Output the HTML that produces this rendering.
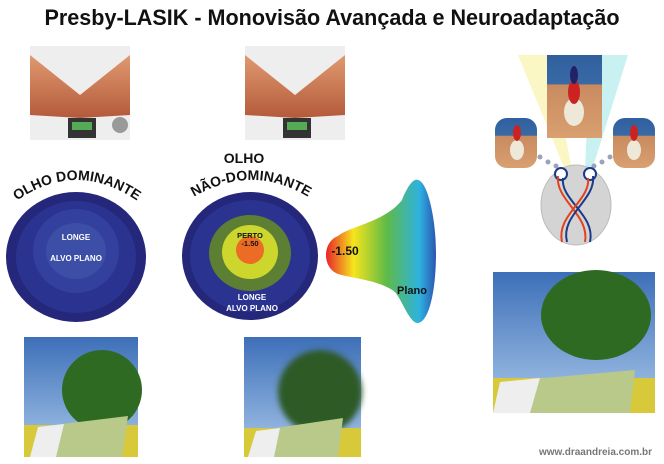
<!DOCTYPE html>
<html><head><meta charset="utf-8"><style>
html,body{margin:0;padding:0;background:#fff;width:664px;height:464px;overflow:hidden}
svg{display:block}
text{font-family:"Liberation Sans",sans-serif}
</style></head><body>
<svg width="664" height="464" viewBox="0 0 664 464" xmlns="http://www.w3.org/2000/svg">
<defs>
<linearGradient id="sky" x1="0" y1="0" x2="0" y2="1"><stop offset="0" stop-color="#3d6fb8"/><stop offset="1" stop-color="#a9c8ea"/></linearGradient>
<linearGradient id="horn" x1="0" y1="0" x2="1" y2="0"><stop offset="0" stop-color="#e8242a"/><stop offset="0.25" stop-color="#f6e51c"/><stop offset="0.55" stop-color="#5fba47"/><stop offset="0.85" stop-color="#2eb2e0"/><stop offset="1" stop-color="#2a55b0"/></linearGradient>
<linearGradient id="skin" x1="0" y1="0" x2="0" y2="1"><stop offset="0" stop-color="#e09a70"/><stop offset="1" stop-color="#b45a3a"/></linearGradient>
<linearGradient id="dirt" x1="0" y1="0" x2="0" y2="1"><stop offset="0" stop-color="#2f5f9e"/><stop offset="0.35" stop-color="#3a6aa5"/><stop offset="0.36" stop-color="#c98a60"/><stop offset="1" stop-color="#d9a070"/></linearGradient>
<filter id="blur"><feGaussianBlur stdDeviation="3"/></filter>
</defs>

<text x="332" y="25" text-anchor="middle" font-size="22" font-weight="bold" fill="#111" textLength="575" lengthAdjust="spacingAndGlyphs">Presby-LASIK - Monovisão Avançada e Neuroadaptação</text>

<!-- hand photos -->
<g>
<rect x="30" y="46" width="100" height="94" fill="#eee"/>
<path d="M30 55 L80 95 L130 55 L130 115 L80 118 L30 115Z" fill="url(#skin)"/>
<rect x="68" y="118" width="28" height="20" fill="#333"/><rect x="72" y="122" width="20" height="8" fill="#5a5"/>
<circle cx="120" cy="125" r="8" fill="#999"/>
<rect x="245" y="46" width="100" height="94" fill="#eee"/>
<path d="M245 55 L295 95 L345 55 L345 115 L295 118 L245 115Z" fill="url(#skin)"/>
<rect x="283" y="118" width="28" height="20" fill="#333"/><rect x="287" y="122" width="20" height="8" fill="#5a5"/>
</g>

<!-- dominant eye -->
<ellipse cx="76" cy="257" rx="70" ry="65" fill="#25277a"/>
<ellipse cx="76" cy="257" rx="60" ry="56" fill="#2a3390"/>
<ellipse cx="76" cy="251" rx="43" ry="42" fill="#34409e"/>
<ellipse cx="76" cy="251" rx="30" ry="28" fill="#3c4ea6"/>
<text x="76" y="240" text-anchor="middle" font-size="8" font-weight="bold" fill="#fff">LONGE</text>
<text x="76" y="261" text-anchor="middle" font-size="8" font-weight="bold" fill="#fff">ALVO PLANO</text>
<path id="arc1" d="M18 200 Q76 160 136 200" fill="none"/>
<text font-size="14" font-weight="bold" fill="#111"><textPath href="#arc1" startOffset="50%" text-anchor="middle">OLHO DOMINANTE</textPath></text>

<!-- non-dominant eye -->
<ellipse cx="250" cy="256" rx="68" ry="64" fill="#25277a"/>
<ellipse cx="250" cy="256" rx="60" ry="56" fill="#2a3390"/>
<ellipse cx="250" cy="253" rx="41" ry="38" fill="#5c7f34"/>
<ellipse cx="250" cy="252" rx="28" ry="27" fill="#cdd62c"/>
<circle cx="250" cy="250" r="14" fill="#ec6b25"/>
<text x="250" y="238" text-anchor="middle" font-size="7.5" font-weight="bold" fill="#111">PERTO</text>
<text x="250" y="246" text-anchor="middle" font-size="7.5" font-weight="bold" fill="#111">-1.50</text>
<text x="252" y="300" text-anchor="middle" font-size="8" font-weight="bold" fill="#fff">LONGE</text>
<text x="252" y="311" text-anchor="middle" font-size="8" font-weight="bold" fill="#fff">ALVO PLANO</text>
<text x="244" y="163" text-anchor="middle" font-size="14" font-weight="bold" fill="#111">OLHO</text>
<path id="arc2" d="M192 198 Q252 162 310 198" fill="none"/>
<text font-size="14" font-weight="bold" fill="#111"><textPath href="#arc2" startOffset="50%" text-anchor="middle">NÃO-DOMINANTE</textPath></text>

<!-- horn -->
<path d="M338 236 C350 226 385 222 402 200 C408 185 414 178 418 180 C428 182 436 220 436 252 C436 295 428 322 418 323 C410 324 402 300 395 292 C380 280 350 278 338 274 C322 268 322 242 338 236Z" fill="url(#horn)"/>
<text x="345" y="255" text-anchor="middle" font-size="12" font-weight="bold" fill="#111">-1.50</text>
<text x="412" y="294" text-anchor="middle" font-size="11" font-weight="bold" fill="#111">Plano</text>

<!-- brain graphic -->
<polygon points="518,55 550,55 572,170 565,170" fill="#fbf7c4"/>
<polygon points="590,55 628,55 592,170 585,170" fill="#c9f1f2"/>
<rect x="547" y="55" width="55" height="83" fill="url(#dirt)"/>
<ellipse cx="574" cy="112" rx="10" ry="14" fill="#eee8d8"/>
<ellipse cx="574" cy="92" rx="6" ry="12" fill="#c22"/>
<ellipse cx="574" cy="75" rx="4" ry="9" fill="#226"/>
<rect x="495" y="118" width="42" height="50" rx="12" fill="url(#dirt)"/>
<ellipse cx="517" cy="150" rx="7" ry="10" fill="#eee8d8"/><ellipse cx="517" cy="133" rx="4" ry="8" fill="#c22"/>
<rect x="613" y="118" width="42" height="50" rx="12" fill="url(#dirt)"/>
<ellipse cx="634" cy="150" rx="7" ry="10" fill="#eee8d8"/><ellipse cx="634" cy="133" rx="4" ry="8" fill="#c22"/>
<g fill="#9aa3b8"><circle cx="540" cy="157" r="2.5"/><circle cx="548" cy="162" r="2.5"/><circle cx="556" cy="166" r="2.5"/><circle cx="610" cy="157" r="2.5"/><circle cx="602" cy="162" r="2.5"/><circle cx="594" cy="166" r="2.5"/></g>
<ellipse cx="576" cy="205" rx="35" ry="40" fill="#d4d4d4" stroke="#bbb"/>
<circle cx="561" cy="174" r="6" fill="#fff" stroke="#1a3a8a" stroke-width="2"/>
<circle cx="590" cy="174" r="6" fill="#fff" stroke="#1a3a8a" stroke-width="2"/>
<path d="M558 176 C555 200 590 215 585 242" stroke="#e2431c" stroke-width="2" fill="none"/>
<path d="M563 178 C560 200 596 215 590 242" stroke="#1a3a8a" stroke-width="2" fill="none"/>
<path d="M593 176 C596 200 560 215 567 242" stroke="#1a3a8a" stroke-width="2" fill="none"/>
<path d="M588 178 C591 200 556 215 562 242" stroke="#e2431c" stroke-width="2" fill="none"/>

<!-- landscape photos -->
<g>
<rect x="24" y="337" width="114" height="120" fill="url(#sky)"/>
<ellipse cx="102" cy="390" rx="40" ry="40" fill="#2f6a22"/>
<rect x="24" y="425" width="114" height="32" fill="#d7c93a"/>
<polygon points="38,427 128,416 122,457 30,457" fill="#b9c98a"/>
<polygon points="38,427 64,424 56,457 30,457" fill="#eee"/>
</g>
<g>
<rect x="244" y="337" width="117" height="120" fill="url(#sky)"/>
<ellipse cx="320" cy="392" rx="42" ry="42" fill="#2d5a26" filter="url(#blur)"/>
<rect x="244" y="428" width="117" height="29" fill="#d7c93a"/>
<polygon points="256,431 343,418 338,457 248,457" fill="#b9c98a"/>
<polygon points="256,431 280,428 274,457 248,457" fill="#eee"/>
</g>
<g>
<rect x="493" y="272" width="162" height="141" fill="url(#sky)"/>
<ellipse cx="596" cy="315" rx="55" ry="45" fill="#2f6a22"/>
<rect x="493" y="378" width="162" height="35" fill="#d7c93a"/>
<polygon points="500,382 635,370 630,413 493,413" fill="#b9c98a"/>
<polygon points="500,382 540,378 530,413 493,413" fill="#eee"/>
</g>
<text x="652" y="455" text-anchor="end" font-size="10" font-weight="bold" fill="#777">www.draandreia.com.br</text>
</svg>
</body></html>
